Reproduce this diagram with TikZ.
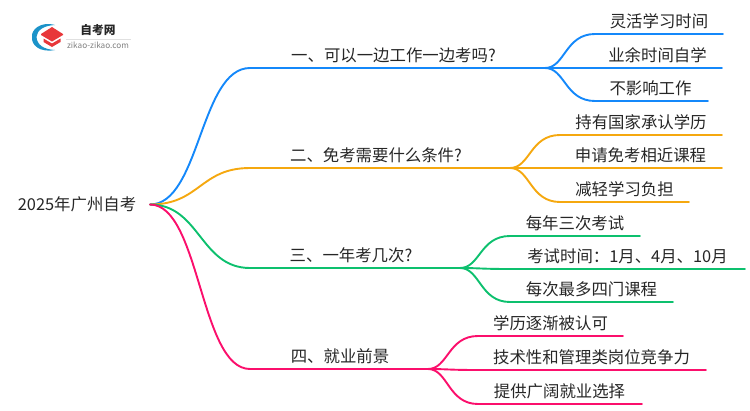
\documentclass[tikz,border=0pt]{standalone}
\usepackage{fontspec}
\setmainfont{Noto Sans CJK SC}
\definecolor{cblue}{HTML}{1488FA}
\definecolor{corange}{HTML}{F5A80F}
\definecolor{cgreen}{HTML}{0DC06E}
\definecolor{cpink}{HTML}{FB0F6C}
\definecolor{ctext}{HTML}{262626}
\definecolor{lblue}{HTML}{1C93C9}
\definecolor{lred}{HTML}{E8373A}
\tikzset{
  lab/.style={inner sep=0pt,outer sep=0pt,text=ctext,font=\fontsize{16.4pt}{18pt}\selectfont,text height=14pt,text depth=2pt,anchor=south},
  leaf/.style={lab,minimum height=25.5pt},
  branch/.style={lab,minimum height=25.5pt},
  link/.style={line width=1.9pt,line cap=round,line join=round},
}
\begin{document}
\begin{tikzpicture}[x=1pt,y=-1pt]
\useasboundingbox (0,0) rectangle (750,410);
% logo
\fill[lblue] (55,25) .. controls (40,21) and (31,30) .. (32,37) .. controls (31,45) and (40,53) .. (55,50) .. controls (44,49.5) and (37,45) .. (36.5,37) .. controls (37,30) and (44,25.5) .. cycle;
\fill[lred] (52,27) -- (63,34) -- (63,35) -- (52,41.5) -- (41,35) -- (41,34) -- cycle;
\fill[lred] (43.5,38.5) -- (52,43.5) -- (60.5,38.5) -- (60.5,42) -- (52,47) -- (43.5,42) -- cycle;
\node[inner sep=0pt,text=ctext,font=\fontsize{11.7pt}{12pt}\selectfont\bfseries] (logoname) at (98,30.5) {自考网};
\node[inner sep=0pt,text=gray,font=\fontsize{8.2pt}{9pt}\selectfont] (logourl) at (98,45) {zikao-zikao.com};
\draw[black!12,line width=.6pt] (66,39) -- (131,39);
% root
\node[lab,minimum width=146pt,minimum height=25.5pt,anchor=east] (root) at (150,204.5) {2025年广州自考};
% branches
\node[branch,minimum width=295pt] (b1) at (397.5,68) {\hspace*{-8pt}一、可以一边工作一边考吗?};
\node[branch,minimum width=260pt] (b2) at (380,168) {\hspace*{-8pt}二、免考需要什么条件?};
\node[branch,minimum width=210pt] (b3) at (355,268) {\hspace*{-8pt}三、一年考几次?};
\node[branch,minimum width=178pt] (b4) at (339,369) {\hspace*{2pt}四、就业前景};
% leaves
\node[leaf,minimum width=128pt] (l11) at (659,34) {灵活学习时间};
\node[leaf,minimum width=127pt] (l12) at (658.5,68) {\hspace*{-2pt}业余时间自学};
\node[leaf,minimum width=113pt] (l13) at (651.5,101) {\hspace*{-2pt}不影响工作};
\node[leaf,minimum width=162pt] (l21) at (641,135) {持有国家承认学历};
\node[leaf,minimum width=162pt] (l22) at (641,168) {\hspace*{-1pt}申请免考相近课程};
\node[leaf,minimum width=129pt] (l23) at (624.5,202) {减轻学习负担};
\node[leaf,minimum width=130pt] (l31) at (575,236) {每年三次考试};
\node[leaf,minimum width=235pt] (l32) at (627.5,269) {考试时间：1月、4月、10月};
\node[leaf,minimum width=163pt] (l33) at (591.5,302) {每次最多四门课程};
\node[leaf,minimum width=145pt] (l41) at (550.5,336) {学历逐渐被认可};
\node[leaf,minimum width=228pt] (l42) at (592,370) {\hspace*{-1pt}技术性和管理类岗位竞争力};
\node[leaf,minimum width=164pt] (l43) at (560,404) {\hspace*{-1pt}提供广阔就业选择};
% connectors
\foreach \bn/\col/\a/\b/\c in {b1/cblue/l11/l12/l13,b2/corange/l21/l22/l23,b3/cgreen/l31/l32/l33,b4/cpink/l41/l42/l43}{
  \draw[link,\col] (root.east) .. controls +(50,0) and +(-50,0) .. (\bn.south west) -- (\bn.south east);
  \foreach \lf in {\a,\b,\c}{
    \draw[link,\col] (\bn.south east) .. controls +(20,0) and +(-30,0) .. (\lf.south west) -- (\lf.south east);
  }
}
\end{tikzpicture}
\end{document}
